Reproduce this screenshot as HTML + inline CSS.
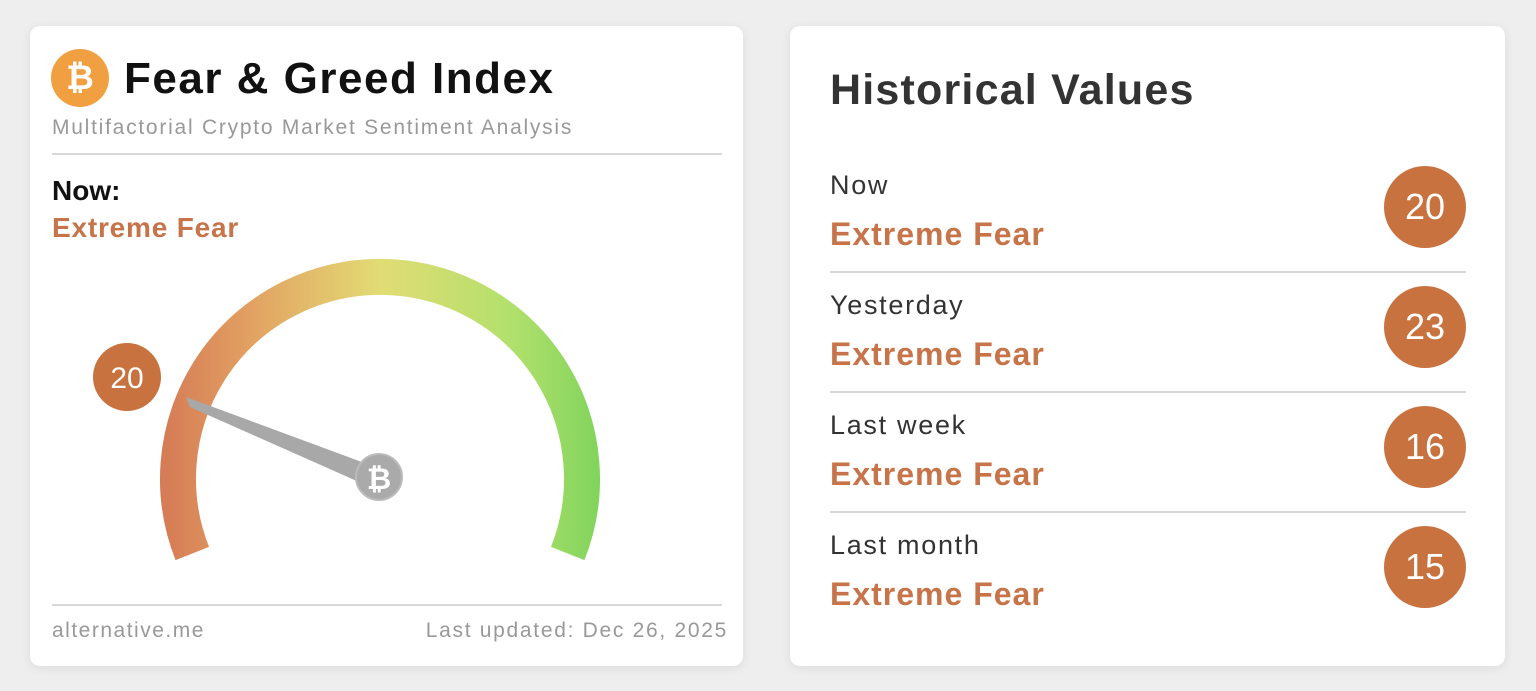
<!DOCTYPE html>
<html><head><meta charset="utf-8"><style>
body{margin:0;width:1536px;height:691px;background:#eeeeee;font-family:"Liberation Sans",sans-serif;position:relative;overflow:hidden}
.card{position:absolute;top:26px;height:640px;background:#fff;border-radius:10px;box-shadow:0 2px 10px rgba(0,0,0,0.08)}
.t{position:absolute;white-space:nowrap}
.or{color:#c8744a;font-weight:bold}
.circ{position:absolute;width:82px;height:82px;border-radius:50%;background:#c8733f;color:#fff;font-size:36px;text-align:center;line-height:82px;left:1384px}
.hr{position:absolute;height:2px;background:#d8d8d8}
.lb{font-size:27px;color:#333;letter-spacing:1.7px}
.ef{font-size:32px;letter-spacing:1px}
</style></head><body>
<div class="card" style="left:30px;width:713px"></div>
<div class="card" style="left:790px;width:715px"></div>

<div style="position:absolute;left:51px;top:49px;width:58px;height:58px;border-radius:50%;background:#f0a040;color:#fff;font-size:34px;font-weight:bold;text-align:center;line-height:58px">₿</div>
<div class="t" style="left:124px;top:54px;font-size:44px;font-weight:bold;color:#111;letter-spacing:1.5px">Fear &amp; Greed Index</div>
<div class="t" style="left:52px;top:116px;font-size:21px;color:#999;letter-spacing:1.75px">Multifactorial Crypto Market Sentiment Analysis</div>
<div class="hr" style="left:52px;top:153px;width:670px"></div>
<div class="t" style="left:52px;top:175px;font-size:28px;font-weight:bold;color:#111">Now:</div>
<div class="t or" style="left:52px;top:212px;font-size:28px;letter-spacing:0.8px">Extreme Fear</div>

<svg style="position:absolute;left:0;top:0" width="760" height="691">
<defs>
<linearGradient id="g" x1="160" y1="0" x2="600" y2="0" gradientUnits="userSpaceOnUse">
<stop offset="0" stop-color="#d57a55"/><stop offset="0.2" stop-color="#e2a062"/>
<stop offset="0.5" stop-color="#e2dc74"/><stop offset="0.8" stop-color="#b2e06c"/>
<stop offset="1" stop-color="#80d45c"/></linearGradient>
</defs>
<path d="M 192.3 553.5 A 202 202 0 1 1 567.7 553.5" fill="none" stroke="url(#g)" stroke-width="36"/>
<polygon points="186,397 190,407 368,486 378,468" fill="#a8a8a8"/>
<circle cx="379" cy="477" r="23" fill="#aaa" stroke="#bbb" stroke-width="2"/>
<text x="379" y="489" font-size="30" font-weight="bold" fill="#fff" text-anchor="middle" font-family="Liberation Sans">₿</text>
<circle cx="127" cy="377" r="34" fill="#c8733f"/>
<text x="127" y="388" font-size="30" fill="#fff" text-anchor="middle" font-family="Liberation Sans">20</text>
</svg>

<div class="hr" style="left:52px;top:604px;width:670px"></div>
<div class="t" style="left:52px;top:619px;font-size:21px;color:#999;letter-spacing:1.5px">alternative.me</div>
<div class="t" style="right:808px;top:619px;font-size:21px;color:#999;letter-spacing:1.7px">Last updated: Dec 26, 2025</div>

<div class="t" style="left:830px;top:66px;font-size:43px;font-weight:bold;color:#333;letter-spacing:1.2px">Historical Values</div>

<div class="t lb" style="left:830px;top:170px">Now</div>
<div class="t or ef" style="left:830px;top:216px">Extreme Fear</div>
<div class="circ" style="top:166px">20</div>
<div class="hr" style="left:830px;top:271px;width:636px"></div>

<div class="t lb" style="left:830px;top:290px">Yesterday</div>
<div class="t or ef" style="left:830px;top:336px">Extreme Fear</div>
<div class="circ" style="top:286px">23</div>
<div class="hr" style="left:830px;top:391px;width:636px"></div>

<div class="t lb" style="left:830px;top:410px">Last week</div>
<div class="t or ef" style="left:830px;top:456px">Extreme Fear</div>
<div class="circ" style="top:406px">16</div>
<div class="hr" style="left:830px;top:511px;width:636px"></div>

<div class="t lb" style="left:830px;top:530px">Last month</div>
<div class="t or ef" style="left:830px;top:576px">Extreme Fear</div>
<div class="circ" style="top:526px">15</div>
</body></html>
